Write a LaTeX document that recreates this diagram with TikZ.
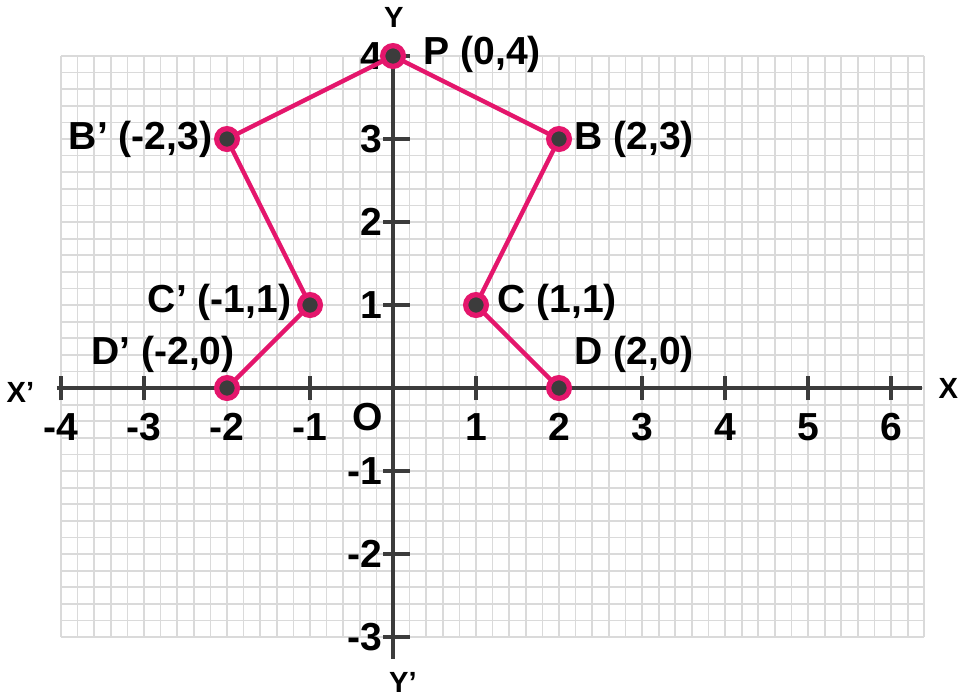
\documentclass[tikz,border=0pt]{standalone}
\usepackage{fontspec}
\setmainfont{Liberation Sans}
\definecolor{pinkc}{RGB}{228,22,108}
\definecolor{axisc}{RGB}{60,60,60}
\definecolor{gridc}{RGB}{218,218,218}
\tikzset{
  ptlabel/.style={font=\fontsize{13.4}{16}\selectfont\bfseries, inner sep=0pt},
  numlabel/.style={font=\fontsize{13.4}{16}\selectfont\bfseries, inner sep=0pt},
  axname/.style={font=\fontsize{10}{12}\selectfont\bfseries, inner sep=0pt},
  dot/.style={circle, fill=axisc, draw=pinkc, line width=1.8pt, minimum size=0.25cm, inner sep=0pt},
  pinkline/.style={pinkc, line width=1.5pt},
  axisline/.style={axisc, line width=1.6pt},
}
\begin{document}
\begin{tikzpicture}
\useasboundingbox (-4.735,-3.699) rectangle (6.819,4.675);
% grid
\draw[gridc, line width=0.6pt, step=0.2] (-4,-3) grid (6.4,4);
% axes
\draw[axisline] (-4.05,0) -- (6.37,0);
\draw[axisline] (0,4) -- (0,-3.27);
% x ticks and labels
\foreach \x in {-4,-3,-2,-1,1,2,3,4,5,6}{
  \draw[axisline] (\x,-0.15) -- (\x,0.15);
  \node[numlabel] at (\x,-0.47) {\x};
}
% y ticks and labels
\foreach \y in {-3,-2,-1,1,2,3,4}{
  \draw[axisline] (-0.12,\y) -- (0.2,\y);
  \node[numlabel, anchor=east] at (-0.12,\y) {\y};
}
\node[numlabel] (O) at (-0.31,-0.35) {O};
\node[axname] (Xp) at (-4.49,-0.05) {X’};
\node[axname] (X) at (6.69,0) {X};
\node[axname] (Y) at (0.01,4.46) {Y};
\node[axname] (Yp) at (0.12,-3.55) {Y’};
% points
\coordinate (P) at (0,4);
\coordinate (B) at (2,3);
\coordinate (C) at (1,1);
\coordinate (D) at (2,0);
\coordinate (Bp) at (-2,3);
\coordinate (Cp) at (-1,1);
\coordinate (Dp) at (-2,0);
\draw[pinkline, line join=round] (D) -- (C) -- (B) -- (P) -- (Bp) -- (Cp) -- (Dp);
\foreach \p in {P,B,C,D,Bp,Cp,Dp}{
  \node[dot] at (\p) {};
}
% labels
\node[ptlabel, anchor=west] (lP) at (0.36,4.02) {P (0,4)};
\node[ptlabel, anchor=west] (lB) at (2.18,3.0) {B (2,3)};
\node[ptlabel, anchor=east] (lBp) at (-2.17,3.0) {B’ (-2,3)};
\node[ptlabel, anchor=west] (lC) at (1.25,1.03) {C (1,1)};
\node[ptlabel, anchor=east] (lCp) at (-1.22,1.03) {C’ (-1,1)};
\node[ptlabel, anchor=west] (lD) at (2.18,0.41) {D (2,0)};
\node[ptlabel, anchor=east] (lDp) at (-1.9,0.41) {D’ (-2,0)};
\end{tikzpicture}
\end{document}
